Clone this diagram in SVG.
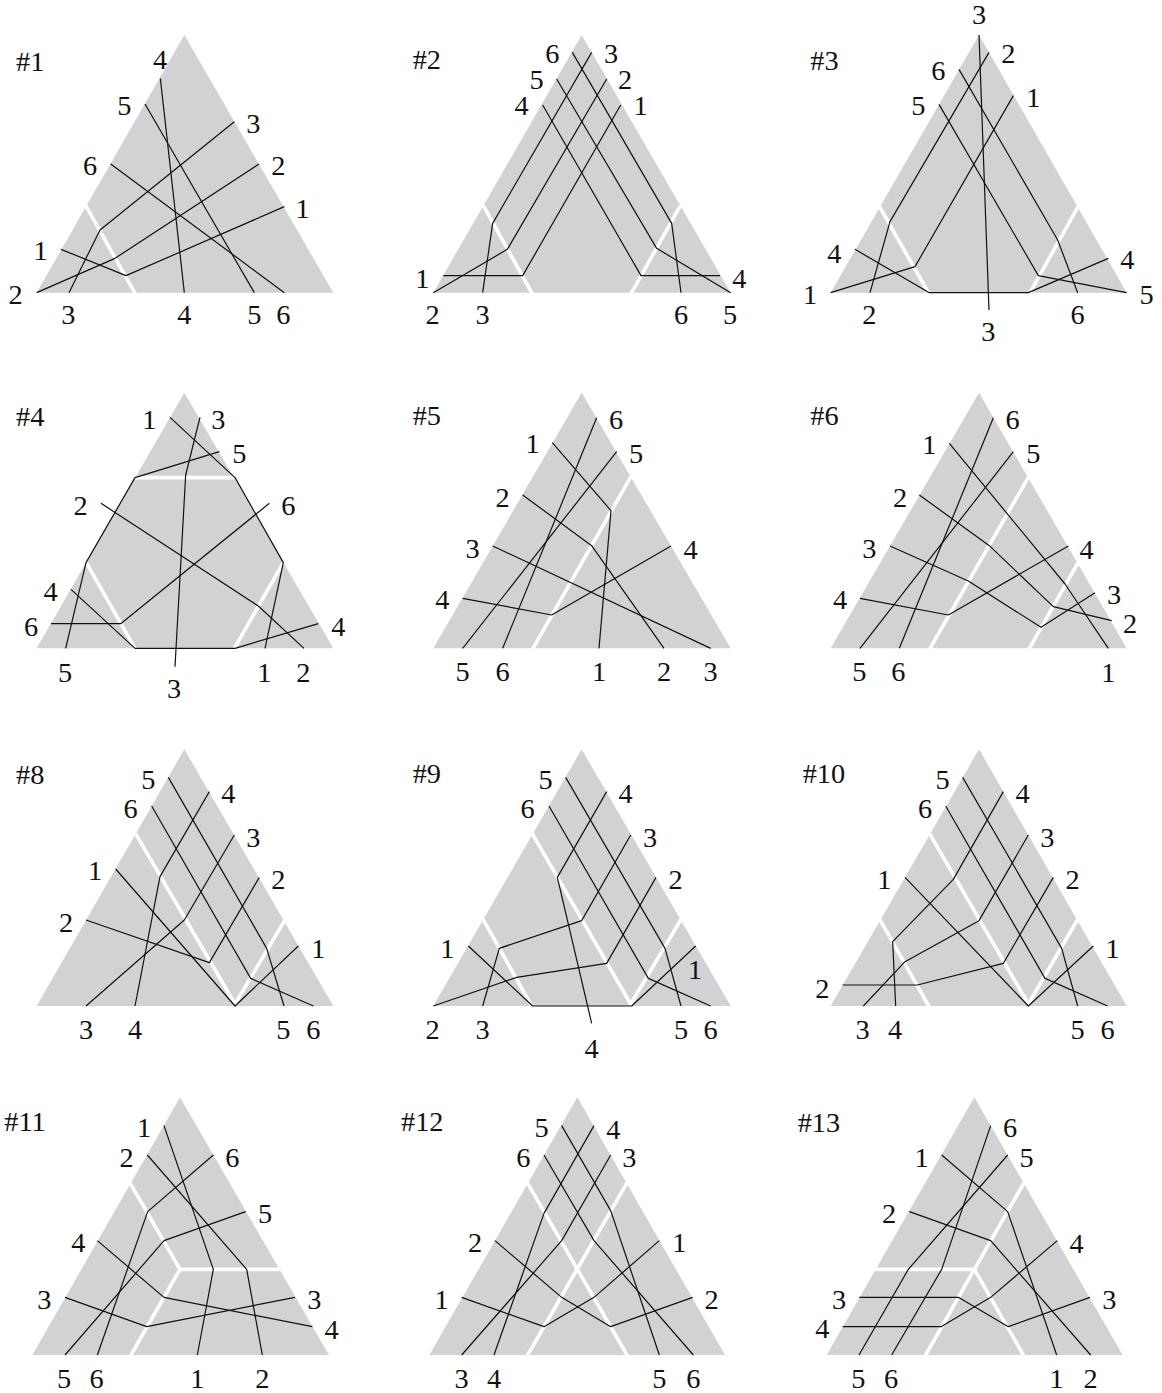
<svg xmlns="http://www.w3.org/2000/svg" width="1162" height="1393" viewBox="0 0 1162 1393">
<style>
.tri{fill:#d2d1d3}
.cut{stroke:#fff;stroke-width:11;fill:none;stroke-linecap:round;stroke-linejoin:round}
.w{stroke:#111;stroke-width:3.6;fill:none;stroke-linejoin:round}
.t{font-family:"Liberation Serif","DejaVu Serif",serif;font-size:85px;fill:#111;text-anchor:middle}
.h{font-family:"Liberation Serif","DejaVu Serif",serif;font-size:85px;fill:#111;text-anchor:start}
</style>
<rect width="1162" height="1393" fill="#fff"/>

<g id="panel1" transform="translate(0 0) scale(0.333333)">
<polygon class="tri" points="553,105 110,878 1000,878"/>
<g class="cuts"><polyline class="cut" points="259,620 404,878"/></g>
<g id="wires1" class="wires">
<polyline class="w" points="481,235 553,878"/>
<polyline class="w" points="435,312 763,878"/>
<polyline class="w" points="332,492 853,878"/>
<polyline class="w" points="703,365 300,690 207,878"/>
<polyline class="w" points="777,492 345,775 110,878"/>
<polyline class="w" points="853,620 378,827 183,748"/>
</g>
<text class="h" x="48" y="212">#1</text>
<text class="t" x="480" y="206">4</text><text class="t" x="373" y="346">5</text><text class="t" x="270" y="526">6</text>
<text class="t" x="760" y="400">3</text><text class="t" x="835" y="525">2</text><text class="t" x="908" y="653">1</text>
<text class="t" x="122" y="780">1</text><text class="t" x="47" y="913">2</text><text class="t" x="205" y="973">3</text>
<text class="t" x="553" y="973">4</text><text class="t" x="763" y="973">5</text><text class="t" x="850" y="973">6</text>
</g>

<g id="panel2" transform="translate(390 0) scale(0.333333)">
<polygon class="tri" points="575,105 130,878 1022,878"/>
<g class="cuts"><polyline class="cut" points="283,622 425,878"/><polyline class="cut" points="868,622 725,878"/></g>
<g id="wires2" class="wires">
<polyline class="w" points="547,157 845,670 873,878"/>
<polyline class="w" points="500,237 800,745 1022,878"/>
<polyline class="w" points="458,315 753,827 990,827"/>
<polyline class="w" points="605,157 308,670 278,878"/>
<polyline class="w" points="650,237 352,748 130,878"/>
<polyline class="w" points="692,315 398,827 160,827"/>
</g>
<text class="h" x="68" y="207">#2</text>
<text class="t" x="487" y="190">6</text><text class="t" x="440" y="268">5</text><text class="t" x="395" y="346">4</text>
<text class="t" x="663" y="190">3</text><text class="t" x="705" y="268">2</text><text class="t" x="752" y="346">1</text>
<text class="t" x="97" y="863">1</text><text class="t" x="1048" y="863">4</text><text class="t" x="128" y="973">2</text>
<text class="t" x="278" y="973">3</text><text class="t" x="873" y="973">6</text><text class="t" x="1020" y="973">5</text>
</g>

<g id="panel3" transform="translate(780 0) scale(0.333333)">
<polygon class="tri" points="597,105 152,878 1040,878"/>
<g class="cuts"><polyline class="cut" points="300,622 445,878"/><polyline class="cut" points="893,622 750,878"/></g>
<g id="wires3" class="wires">
<polyline class="w" points="597,105 627,930"/>
<polyline class="w" points="627,157 330,665 270,878"/>
<polyline class="w" points="700,287 405,800 152,878"/>
<polyline class="w" points="537,208 833,720 893,878"/>
<polyline class="w" points="477,313 775,827 1040,878"/>
<polyline class="w" points="225,748 448,878 745,878 985,775"/>
</g>
<text class="h" x="91" y="211">#3</text>
<text class="t" x="597" y="73">3</text><text class="t" x="685" y="190">2</text><text class="t" x="760" y="320">1</text>
<text class="t" x="475" y="240">6</text><text class="t" x="415" y="346">5</text><text class="t" x="163" y="788">4</text>
<text class="t" x="90" y="913">1</text><text class="t" x="268" y="973">2</text><text class="t" x="625" y="1023">3</text>
<text class="t" x="893" y="973">6</text><text class="t" x="1042" y="808">4</text><text class="t" x="1100" y="913">5</text>
</g>

<g id="panel4" transform="translate(0 380) scale(0.333333)">
<polygon class="tri" points="553,38 110,805 1000,805"/>
<g class="cuts"><polyline class="cut" points="405,293 702,293"/><polyline class="cut" points="259,548 405,805"/><polyline class="cut" points="850,548 703,805"/></g>
<g id="wires4" class="wires">
<polyline class="w" points="510,112 705,293 850,548 795,805"/>
<polyline class="w" points="600,112 557,285 525,860"/>
<polyline class="w" points="658,215 405,293 258,548 197,805"/>
<polyline class="w" points="303,370 775,678 912,805"/>
<polyline class="w" points="808,370 362,731 153,731"/>
<polyline class="w" points="213,628 405,805 705,805 955,731"/>
</g>
<text class="h" x="48" y="137">#4</text>
<text class="t" x="448" y="146">1</text><text class="t" x="655" y="146">3</text><text class="t" x="718" y="250">5</text>
<text class="t" x="242" y="406">2</text><text class="t" x="865" y="406">6</text><text class="t" x="152" y="663">4</text>
<text class="t" x="93" y="768">6</text><text class="t" x="1015" y="768">4</text><text class="t" x="195" y="906">5</text>
<text class="t" x="793" y="906">1</text><text class="t" x="910" y="906">2</text><text class="t" x="522" y="953">3</text>
</g>

<g id="panel5" transform="translate(390 380) scale(0.333333)">
<polygon class="tri" points="575,38 130,805 1022,805"/>
<g class="cuts"><polyline class="cut" points="721,293 429,805"/></g>
<g id="wires5" class="wires">
<polyline class="w" points="620,113 338,805"/>
<polyline class="w" points="680,215 218,805"/>
<polyline class="w" points="487,188 663,392 627,805"/>
<polyline class="w" points="398,345 605,497 822,805"/>
<polyline class="w" points="308,498 962,805"/>
<polyline class="w" points="218,655 485,705 843,498"/>
</g>
<text class="h" x="68" y="134">#5</text>
<text class="t" x="678" y="146">6</text><text class="t" x="428" y="220">1</text><text class="t" x="738" y="250">5</text>
<text class="t" x="338" y="380">2</text><text class="t" x="248" y="533">3</text><text class="t" x="902" y="536">4</text>
<text class="t" x="157" y="688">4</text><text class="t" x="218" y="903">5</text><text class="t" x="338" y="903">6</text>
<text class="t" x="627" y="903">1</text><text class="t" x="822" y="903">2</text><text class="t" x="962" y="903">3</text>
</g>

<g id="panel6" transform="translate(780 380) scale(0.333333)">
<polygon class="tri" points="597,38 152,805 1040,805"/>
<g class="cuts"><polyline class="cut" points="745,292 450,805"/><polyline class="cut" points="892,552 748,805"/></g>
<g id="wires6" class="wires">
<polyline class="w" points="640,113 358,805"/>
<polyline class="w" points="700,215 240,805"/>
<polyline class="w" points="508,190 855,612 985,805"/>
<polyline class="w" points="418,345 628,497 820,680 995,722"/>
<polyline class="w" points="330,498 565,603 783,742 945,638"/>
<polyline class="w" points="240,655 505,705 865,498"/>
</g>
<text class="h" x="91" y="136">#6</text>
<text class="t" x="698" y="146">6</text><text class="t" x="448" y="223">1</text><text class="t" x="760" y="250">5</text>
<text class="t" x="360" y="380">2</text><text class="t" x="268" y="533">3</text><text class="t" x="920" y="536">4</text>
<text class="t" x="1002" y="673">3</text><text class="t" x="1050" y="758">2</text><text class="t" x="180" y="688">4</text>
<text class="t" x="238" y="903">5</text><text class="t" x="355" y="903">6</text><text class="t" x="985" y="906">1</text>
</g>

<g id="panel8" transform="translate(0 740) scale(0.333333)">
<polygon class="tri" points="553,28 110,798 1000,798"/>
<g class="cuts"><polyline class="cut" points="408,283 705,792 852,545"/></g>
<g id="wires8" class="wires">
<polyline class="w" points="505,112 800,625 852,798"/>
<polyline class="w" points="455,198 752,715 940,798"/>
<polyline class="w" points="628,155 480,410 405,798"/>
<polyline class="w" points="703,285 553,540 258,798"/>
<polyline class="w" points="778,412 628,668 258,540"/>
<polyline class="w" points="895,618 705,798 347,387"/>
</g>
<text class="h" x="48" y="131">#8</text>
<text class="t" x="445" y="146">5</text><text class="t" x="685" y="190">4</text><text class="t" x="392" y="235">6</text>
<text class="t" x="760" y="320">3</text><text class="t" x="285" y="420">1</text><text class="t" x="835" y="448">2</text>
<text class="t" x="198" y="576">2</text><text class="t" x="955" y="653">1</text><text class="t" x="258" y="896">3</text>
<text class="t" x="405" y="896">4</text><text class="t" x="850" y="896">5</text><text class="t" x="940" y="896">6</text>
</g>

<g id="panel9" transform="translate(390 740) scale(0.333333)">
<polygon class="tri" points="575,28 130,798 1022,798"/>
<g class="cuts"><polyline class="cut" points="428,283 722,792 872,540"/><polyline class="cut" points="281,541 425,798"/></g>
<g id="wires9" class="wires">
<polyline class="w" points="527,112 825,625 873,798"/>
<polyline class="w" points="477,198 775,715 962,798"/>
<polyline class="w" points="650,155 502,412 605,850"/>
<polyline class="w" points="722,285 575,542 328,625 278,798"/>
<polyline class="w" points="798,412 650,670 380,712 130,798"/>
<polyline class="w" points="917,618 725,798 428,798 235,618"/>
</g>
<text class="h" x="68" y="129">#9</text>
<text class="t" x="467" y="146">5</text><text class="t" x="707" y="190">4</text><text class="t" x="413" y="235">6</text>
<text class="t" x="780" y="320">3</text><text class="t" x="857" y="448">2</text><text class="t" x="172" y="653">1</text>
<text class="t" x="915" y="716">1</text><text class="t" x="128" y="896">2</text><text class="t" x="278" y="896">3</text>
<text class="t" x="873" y="896">5</text><text class="t" x="962" y="896">6</text><text class="t" x="605" y="953">4</text>
</g>

<g id="panel10" transform="translate(780 740) scale(0.333333)">
<polygon class="tri" points="597,28 152,798 1040,798"/>
<g class="cuts"><polyline class="cut" points="450,283 745,792 892,540"/><polyline class="cut" points="301,541 446,798"/></g>
<g id="wires10" class="wires">
<polyline class="w" points="548,112 845,625 893,798"/>
<polyline class="w" points="497,198 795,715 983,798"/>
<polyline class="w" points="670,155 520,418 338,605 347,798"/>
<polyline class="w" points="745,285 597,542 375,665 250,798"/>
<polyline class="w" points="820,412 670,670 412,735 188,735"/>
<polyline class="w" points="940,618 745,798 375,412"/>
</g>
<text class="h" x="68" y="129">#10</text>
<text class="t" x="488" y="146">5</text><text class="t" x="728" y="190">4</text><text class="t" x="435" y="235">6</text>
<text class="t" x="802" y="320">3</text><text class="t" x="313" y="448">1</text><text class="t" x="878" y="448">2</text>
<text class="t" x="998" y="653">1</text><text class="t" x="127" y="773">2</text><text class="t" x="248" y="896">3</text>
<text class="t" x="345" y="896">4</text><text class="t" x="893" y="896">5</text><text class="t" x="983" y="896">6</text>
</g>

<g id="panel11" transform="translate(0 1080) scale(0.333333)">
<polygon class="tri" points="540,52 97,825 987,825"/>
<g class="cuts"><polyline class="cut" points="391,310 540,568 836,568"/><polyline class="cut" points="540,568 393,825"/></g>
<g id="wires11" class="wires">
<polyline class="w" points="492,137 640,568 592,825"/>
<polyline class="w" points="442,225 740,568 787,825"/>
<polyline class="w" points="640,225 443,395 292,825"/>
<polyline class="w" points="737,395 492,482 195,825"/>
<polyline class="w" points="292,482 492,652 937,740"/>
<polyline class="w" points="195,652 440,740 885,652"/>
</g>
<text class="h" x="13" y="154">#11</text>
<text class="t" x="432" y="170">1</text><text class="t" x="380" y="260">2</text><text class="t" x="697" y="260">6</text>
<text class="t" x="795" y="428">5</text><text class="t" x="235" y="516">4</text><text class="t" x="133" y="686">3</text>
<text class="t" x="943" y="686">3</text><text class="t" x="995" y="776">4</text><text class="t" x="192" y="923">5</text>
<text class="t" x="290" y="923">6</text><text class="t" x="592" y="923">1</text><text class="t" x="787" y="923">2</text>
</g>

<g id="panel12" transform="translate(390 1080) scale(0.333333)">
<polygon class="tri" points="562,52 118,825 1005,825"/>
<g class="cuts"><polyline class="cut" points="413,310 711,825"/><polyline class="cut" points="710,310 413,825"/></g>
<g id="wires12" class="wires">
<polyline class="w" points="515,137 662,392 808,825"/>
<polyline class="w" points="612,137 462,400 312,825"/>
<polyline class="w" points="462,225 612,482 910,825"/>
<polyline class="w" points="662,225 515,482 215,825"/>
<polyline class="w" points="315,482 515,652 662,740 908,652"/>
<polyline class="w" points="808,482 612,652 462,740 215,652"/>
</g>
<text class="h" x="33" y="154">#12</text>
<text class="t" x="455" y="170">5</text><text class="t" x="670" y="176">4</text><text class="t" x="400" y="260">6</text>
<text class="t" x="718" y="260">3</text><text class="t" x="255" y="516">2</text><text class="t" x="868" y="516">1</text>
<text class="t" x="155" y="686">1</text><text class="t" x="965" y="686">2</text><text class="t" x="215" y="923">3</text>
<text class="t" x="312" y="923">4</text><text class="t" x="808" y="923">5</text><text class="t" x="910" y="923">6</text>
</g>

<g id="panel13" transform="translate(780 1080) scale(0.333333)">
<polygon class="tri" points="583,52 140,825 1028,825"/>
<g class="cuts"><polyline class="cut" points="287,568 583,568 730,312"/><polyline class="cut" points="437,825 583,568 730,825"/></g>
<g id="wires13" class="wires">
<polyline class="w" points="632,137 485,568 335,825"/>
<polyline class="w" points="683,225 385,568 237,825"/>
<polyline class="w" points="485,225 683,395 830,825"/>
<polyline class="w" points="388,395 632,482 932,825"/>
<polyline class="w" points="832,482 632,652 483,740 188,740"/>
<polyline class="w" points="930,652 685,740 535,652 238,652"/>
</g>
<text class="h" x="53" y="156">#13</text>
<text class="t" x="690" y="170">6</text><text class="t" x="425" y="260">1</text><text class="t" x="740" y="260">5</text>
<text class="t" x="327" y="430">2</text><text class="t" x="890" y="518">4</text><text class="t" x="177" y="686">3</text>
<text class="t" x="988" y="686">3</text><text class="t" x="127" y="773">4</text><text class="t" x="235" y="923">5</text>
<text class="t" x="333" y="923">6</text><text class="t" x="830" y="923">1</text><text class="t" x="932" y="923">2</text>
</g>
</svg>
